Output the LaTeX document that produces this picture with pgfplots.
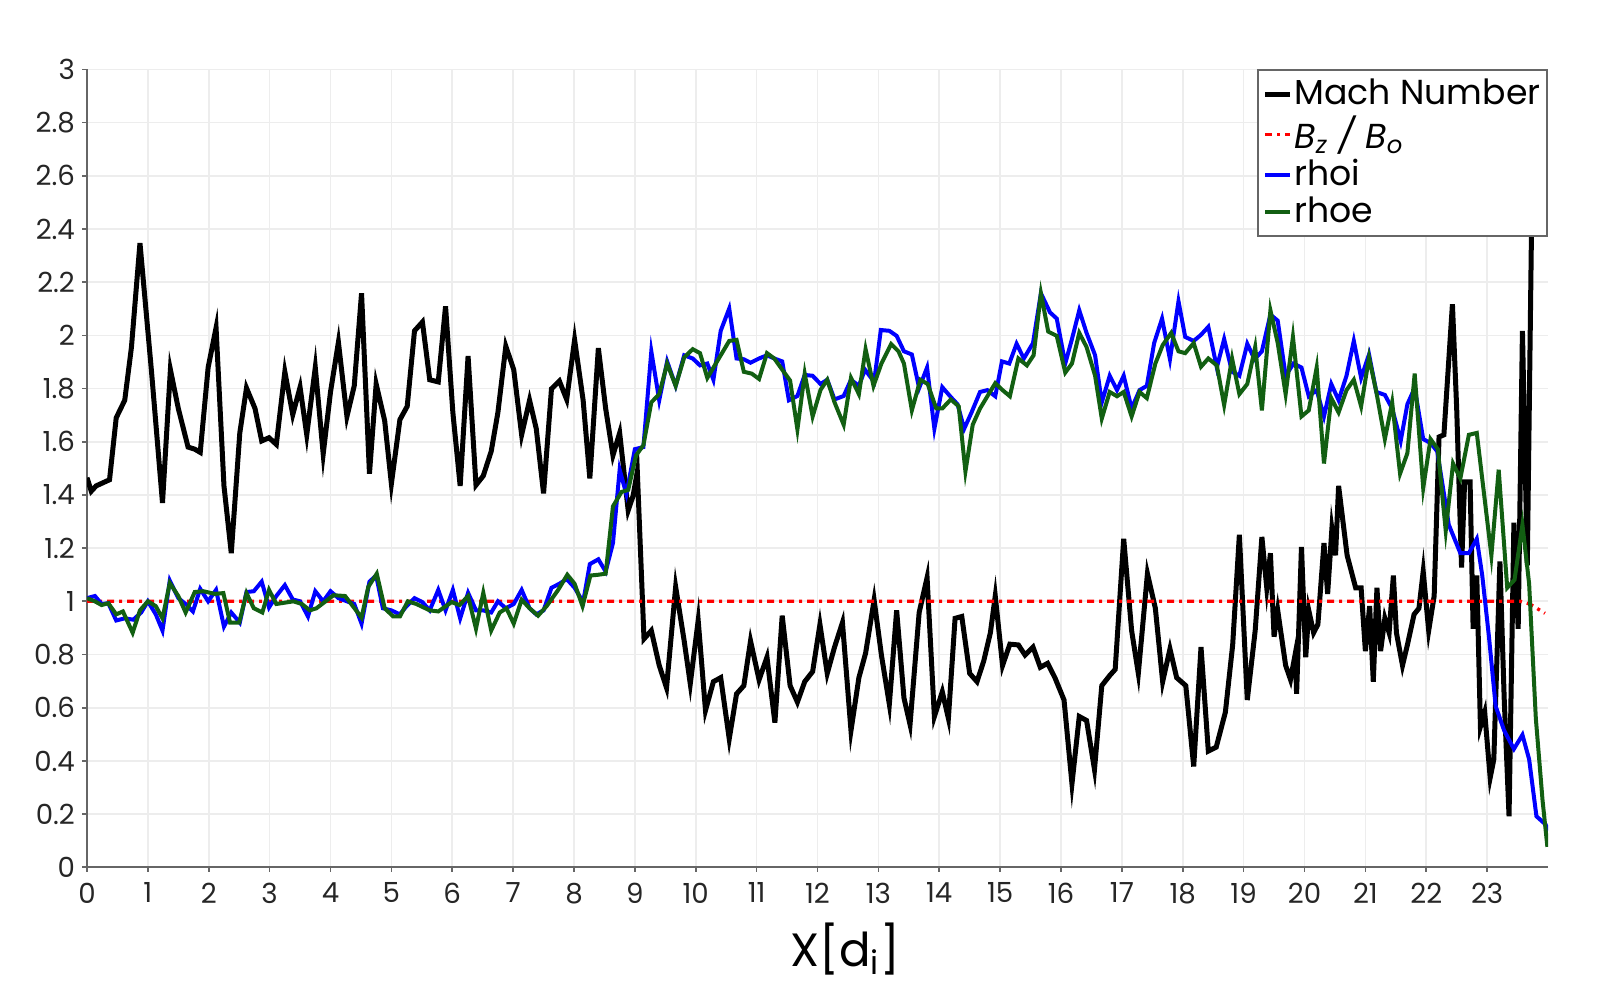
\documentclass[border=0pt]{standalone}
\usepackage{fontspec}
\setmainfont{Poppins}
\usepackage{pgfplots}
\pgfplotsset{compat=1.18}
\definecolor{mygreen}{RGB}{18,95,18}
\begin{document}
\begin{tikzpicture}
\path[use as bounding box] (-26.1pt,-39.8pt) rectangle (453.9pt,260.2pt);
\begin{axis}[
  at={(0,0)}, anchor=south west,
  scale only axis, width=438.3pt, height=239.4pt,
  xmin=0, xmax=24, ymin=0, ymax=3,
  axis x line*=bottom, axis y line*=left,
  axis line style={black!60, line width=0.6pt, -},
  xtick={0,1,...,23}, ytick={0,0.2,...,3.01},
  yticklabels={0,0.2,0.4,0.6,0.8,1,1.2,1.4,1.6,1.8,2,2.2,2.4,2.6,2.8,3},
  tick align=outside, major tick length=1.4pt,
  tick style={black!60, line width=0.5pt},
  grid=major, major grid style={black!7, line width=0.5pt},
  /pgf/number format/assume math mode=true,
  tick label style={font=\fontsize{8.3}{10}\selectfont, text=black!85},
  yticklabel style={xshift=1.3pt},
  xticklabel style={yshift=0.3pt},
  xlabel={X[d\textsubscript{i}]},
  xlabel style={at={(axis description cs:0.519,0)}, anchor=north, inner sep=0pt, yshift=-16.5pt, font=\fontsize{14}{17}\selectfont},
  legend style={at={(1,1)}, anchor=north east, draw=black!60, line width=0.5pt, fill=white,
    font=\fontsize{10.4}{12}\selectfont, inner xsep=1.5pt, inner ysep=0.6pt, row sep=-2.2pt,
    nodes={inner xsep=0.5pt}},
  legend cell align=left,
  legend image code/.code={\draw[#1] (0pt,0pt) -- (7.5pt,0pt);},
]
\addplot[black, line width=1.5pt] coordinates {
(0,1.465)(0.07,1.414)(0.15,1.434)(0.37,1.457)(0.48,1.69)(0.62,1.756)(0.73,1.955)(0.87,2.347)
(1.06,1.863)(1.24,1.37)(1.37,1.871)(1.50,1.725)(1.66,1.58)(1.77,1.572)(1.86,1.56)(1.99,1.879)
(2.12,2.028)(2.25,1.434)(2.37,1.181)(2.51,1.633)(2.62,1.802)(2.76,1.725)(2.87,1.603)(2.99,1.615)
(3.11,1.59)(3.25,1.863)(3.38,1.702)(3.50,1.805)(3.61,1.626)(3.75,1.879)(3.88,1.554)(4.00,1.787)
(4.13,1.974)(4.27,1.695)(4.39,1.81)(4.51,2.158)(4.64,1.48)(4.75,1.817)(4.89,1.679)(5.00,1.442)
(5.14,1.683)(5.26,1.733)(5.38,2.017)(5.51,2.05)(5.63,1.833)(5.77,1.825)(5.89,2.109)(6.01,1.71)
(6.13,1.434)(6.26,1.922)(6.39,1.437)(6.51,1.472)(6.64,1.564)(6.75,1.71)(6.88,1.959)(7.01,1.871)
(7.14,1.626)(7.27,1.756)(7.38,1.649)(7.50,1.406)(7.63,1.799)(7.76,1.828)(7.88,1.759)(8.01,1.983)
(8.15,1.756)(8.26,1.462)(8.40,1.952)(8.52,1.725)(8.64,1.549)(8.75,1.633)(8.89,1.342)(8.97,1.396)
(9.04,1.488)(9.15,0.859)(9.27,0.89)(9.40,0.759)(9.52,0.675)(9.67,1.054)(9.81,0.851)(9.91,0.69)
(10.04,0.928)(10.16,0.59)(10.29,0.698)(10.41,0.713)(10.55,0.483)(10.67,0.652)(10.79,0.683)(10.90,0.851)
(11.04,0.705)(11.17,0.79)(11.30,0.544)(11.42,0.946)(11.55,0.683)(11.67,0.621)(11.79,0.698)(11.92,0.736)
(12.04,0.913)(12.16,0.729)(12.28,0.828)(12.41,0.92)(12.55,0.514)(12.68,0.713)(12.79,0.805)(12.93,1.005)
(13.05,0.798)(13.18,0.613)(13.30,0.966)(13.42,0.637)(13.52,0.537)(13.67,0.958)(13.80,1.089)(13.92,0.567)
(14.05,0.66)(14.15,0.56)(14.26,0.936)(14.37,0.943)(14.50,0.729)(14.62,0.698)(14.73,0.775)(14.84,0.882)
(14.92,1.02)(15.04,0.759)(15.16,0.839)(15.30,0.836)(15.41,0.798)(15.54,0.828)(15.66,0.752)(15.78,0.767)
(15.90,0.713)(16.05,0.629)(16.18,0.314)(16.30,0.567)(16.42,0.552)(16.55,0.368)(16.67,0.683)(16.80,0.721)
(16.89,0.744)(17.03,1.235)(17.16,0.89)(17.27,0.729)(17.42,1.104)(17.55,0.974)(17.67,0.698)(17.79,0.821)
(17.90,0.713)(18.05,0.683)(18.18,0.379)(18.30,0.828)(18.42,0.437)(18.55,0.452)(18.70,0.583)(18.82,0.836)
(18.93,1.25)(19.06,0.629)(19.19,0.89)(19.30,1.242)(19.38,1.051)(19.44,1.181)(19.50,0.867)(19.56,0.966)
(19.69,0.759)(19.77,0.706)(19.85,0.805)(19.87,0.652)(19.95,1.204)(20.02,0.79)(20.07,0.966)(20.15,0.882)
(20.22,0.913)(20.32,1.219)(20.38,1.028)(20.45,1.273)(20.51,1.173)(20.56,1.434)(20.70,1.173)(20.84,1.051)
(20.93,1.051)(21.00,0.813)(21.07,0.982)(21.13,0.698)(21.19,1.051)(21.25,0.813)(21.32,0.936)(21.39,0.882)
(21.46,1.097)(21.51,0.882)(21.61,0.759)(21.69,0.836)(21.80,0.951)(21.88,0.974)(21.95,1.112)(22.04,0.89)
(22.13,1.02)(22.21,1.618)(22.29,1.626)(22.43,2.117)(22.50,1.725)(22.58,1.127)(22.63,1.449)(22.72,1.449)
(22.77,0.897)(22.83,1.097)(22.89,0.529)(22.96,0.583)(23.05,0.337)(23.11,0.406)(23.21,1.15)(23.28,0.637)
(23.36,0.192)(23.44,1.296)(23.51,0.897)(23.58,2.017)(23.66,1.135)(23.74,2.6)
};
\addlegendentry{Mach Number}
\addplot[red, line width=1pt, dash pattern=on 2.1pt off 1.5pt on 0.9pt off 1.5pt] coordinates {
(0,1)(23.55,1)(23.7,0.99)(23.95,0.955)
};
\addlegendentry{\itshape B\textsubscript{z} / B\textsubscript{o}}
\addplot[blue, line width=1.2pt] coordinates {
(0,1.012)(0.13,1.02)(0.24,0.99)(0.35,0.993)(0.48,0.928)(0.62,0.936)(0.76,0.931)(0.89,0.958)
(1.00,1.0)(1.13,0.951)(1.24,0.89)(1.36,1.078)(1.50,1.012)(1.62,0.99)(1.74,0.962)(1.86,1.047)
(1.99,1.0)(2.12,1.043)(2.25,0.905)(2.37,0.958)(2.51,0.92)(2.62,1.035)(2.74,1.038)(2.87,1.074)
(2.99,0.977)(3.11,1.02)(3.25,1.061)(3.38,1.007)(3.50,1.0)(3.63,0.943)(3.75,1.038)(3.88,1.0)
(4.00,1.038)(4.13,1.012)(4.27,1.0)(4.39,0.99)(4.51,0.916)(4.64,1.074)(4.75,1.097)(4.86,0.974)
(5.00,0.966)(5.14,0.951)(5.25,0.982)(5.38,1.012)(5.51,0.997)(5.63,0.966)(5.77,1.043)(5.89,0.966)
(6.01,1.043)(6.13,0.936)(6.26,1.032)(6.39,0.966)(6.51,0.966)(6.64,0.958)(6.75,1.0)(6.88,0.974)
(7.01,0.99)(7.14,1.043)(7.27,0.974)(7.38,0.951)(7.50,0.966)(7.63,1.051)(7.76,1.066)(7.88,1.084)
(8.01,1.051)(8.15,0.997)(8.26,1.14)(8.40,1.158)(8.52,1.112)(8.64,1.219)(8.75,1.495)(8.86,1.403)
(9.00,1.572)(9.14,1.58)(9.27,1.94)(9.40,1.756)(9.53,1.902)(9.67,1.81)(9.81,1.925)(9.95,1.913)
(10.07,1.887)(10.19,1.894)(10.29,1.833)(10.41,2.017)(10.55,2.101)(10.67,1.913)(10.79,1.91)(10.90,1.897)
(11.04,1.913)(11.17,1.925)(11.29,1.913)(11.42,1.902)(11.53,1.756)(11.67,1.772)(11.79,1.851)(11.92,1.848)
(12.05,1.817)(12.16,1.833)(12.28,1.759)(12.43,1.772)(12.55,1.833)(12.68,1.81)(12.78,1.871)(12.93,1.825)
(13.04,2.02)(13.18,2.017)(13.30,1.998)(13.42,1.94)(13.55,1.928)(13.67,1.802)(13.80,1.879)(13.92,1.649)
(14.05,1.805)(14.19,1.768)(14.30,1.741)(14.41,1.649)(14.53,1.71)(14.67,1.787)(14.79,1.794)(14.92,1.771)
(15.03,1.902)(15.15,1.894)(15.27,1.968)(15.39,1.913)(15.54,1.971)(15.67,2.158)(15.82,2.086)(15.93,2.063)
(16.07,1.894)(16.18,1.986)(16.30,2.094)(16.42,2.009)(16.56,1.925)(16.67,1.748)(16.80,1.848)(16.92,1.794)
(17.03,1.848)(17.16,1.725)(17.29,1.794)(17.41,1.81)(17.53,1.971)(17.66,2.063)(17.79,1.91)(17.93,2.128)
(18.04,1.994)(18.18,1.979)(18.30,2.002)(18.42,2.032)(18.56,1.879)(18.68,1.986)(18.81,1.863)(18.93,1.848)
(19.06,1.968)(19.18,1.91)(19.30,1.94)(19.44,2.078)(19.56,2.055)(19.69,1.848)(19.82,1.894)(19.95,1.879)
(20.07,1.771)(20.20,1.794)(20.32,1.695)(20.44,1.817)(20.56,1.756)(20.69,1.848)(20.81,1.979)(20.93,1.84)
(21.06,1.928)(21.18,1.787)(21.32,1.776)(21.44,1.725)(21.58,1.603)(21.69,1.741)(21.81,1.802)(21.95,1.61)
(22.07,1.595)(22.18,1.564)(22.26,1.449)(22.37,1.288)(22.56,1.181)(22.70,1.181)(22.83,1.235)(22.92,1.097)
(23.03,0.867)(23.14,0.606)(23.28,0.514)(23.44,0.445)(23.58,0.498)(23.69,0.406)(23.81,0.192)(23.96,0.161)
(24.00,0.138)
};
\addlegendentry{rhoi}
\addplot[mygreen, line width=1.2pt] coordinates {
(0,1.012)(0.13,1.0)(0.24,0.986)(0.35,0.993)(0.48,0.951)(0.59,0.962)(0.75,0.882)(0.87,0.966)
(1.00,1.0)(1.13,0.982)(1.24,0.936)(1.36,1.069)(1.50,1.02)(1.62,0.958)(1.77,1.035)(1.91,1.038)
(2.10,1.028)(2.24,1.031)(2.35,0.92)(2.50,0.92)(2.62,1.031)(2.74,0.974)(2.88,0.958)(2.99,1.043)
(3.11,0.99)(3.39,1.0)(3.53,0.99)(3.66,0.966)(3.77,0.974)(4.05,1.023)(4.24,1.02)(4.51,0.939)
(4.62,1.054)(4.76,1.104)(4.89,0.974)(5.03,0.943)(5.14,0.943)(5.27,1.0)(5.41,0.99)(5.63,0.966)
(5.77,0.962)(5.99,0.997)(6.12,0.986)(6.26,1.02)(6.39,0.897)(6.51,1.032)(6.64,0.89)(6.78,0.958)
(6.89,0.974)(7.01,0.916)(7.14,1.006)(7.27,0.974)(7.41,0.946)(7.55,0.982)(7.74,1.043)(7.89,1.10)
(8.01,1.066)(8.14,0.982)(8.27,1.097)(8.40,1.10)(8.52,1.104)(8.64,1.357)(8.78,1.411)(8.89,1.419)
(9.02,1.549)(9.14,1.587)(9.27,1.748)(9.40,1.779)(9.53,1.894)(9.67,1.81)(9.81,1.917)(9.95,1.948)
(10.07,1.933)(10.19,1.84)(10.33,1.894)(10.55,1.979)(10.67,1.983)(10.79,1.863)(10.92,1.856)(11.04,1.836)
(11.17,1.933)(11.29,1.913)(11.42,1.871)(11.55,1.83)(11.67,1.646)(11.79,1.856)(11.92,1.695)(12.05,1.795)
(12.16,1.833)(12.28,1.748)(12.43,1.664)(12.55,1.84)(12.68,1.779)(12.79,1.948)(12.92,1.81)(13.05,1.894)
(13.21,1.967)(13.33,1.94)(13.42,1.894)(13.55,1.718)(13.69,1.833)(13.81,1.817)(13.95,1.725)(14.05,1.725)
(14.19,1.759)(14.32,1.733)(14.43,1.488)(14.55,1.664)(14.67,1.725)(14.92,1.82)(15.04,1.794)(15.16,1.771)
(15.30,1.913)(15.44,1.887)(15.55,1.925)(15.67,2.158)(15.79,2.014)(15.93,1.998)(16.07,1.86)(16.18,1.894)
(16.30,2.009)(16.42,1.956)(16.56,1.848)(16.67,1.687)(16.80,1.787)(16.92,1.771)(17.03,1.787)(17.16,1.695)
(17.29,1.787)(17.41,1.764)(17.55,1.894)(17.67,1.963)(17.81,2.009)(17.93,1.94)(18.04,1.933)(18.18,1.971)
(18.30,1.882)(18.42,1.913)(18.56,1.887)(18.68,1.738)(18.81,1.913)(18.93,1.779)(19.06,1.817)(19.19,1.956)
(19.30,1.718)(19.44,2.094)(19.56,1.971)(19.69,1.779)(19.81,1.994)(19.95,1.695)(20.07,1.718)(20.20,1.879)
(20.32,1.518)(20.44,1.764)(20.56,1.71)(20.69,1.794)(20.81,1.833)(20.93,1.733)(21.06,1.917)(21.18,1.787)
(21.32,1.61)(21.44,1.748)(21.57,1.48)(21.69,1.557)(21.81,1.856)(21.95,1.426)(22.07,1.61)(22.19,1.572)
(22.32,1.265)(22.44,1.518)(22.56,1.462)(22.70,1.626)(22.83,1.633)(23.07,1.172)(23.19,1.495)(23.33,1.051)
(23.45,1.081)(23.58,1.288)(23.69,1.066)(23.80,0.56)(23.91,0.253)(23.99,0.077)
};
\addlegendentry{rhoe}
\end{axis}
\end{tikzpicture}
\end{document}
